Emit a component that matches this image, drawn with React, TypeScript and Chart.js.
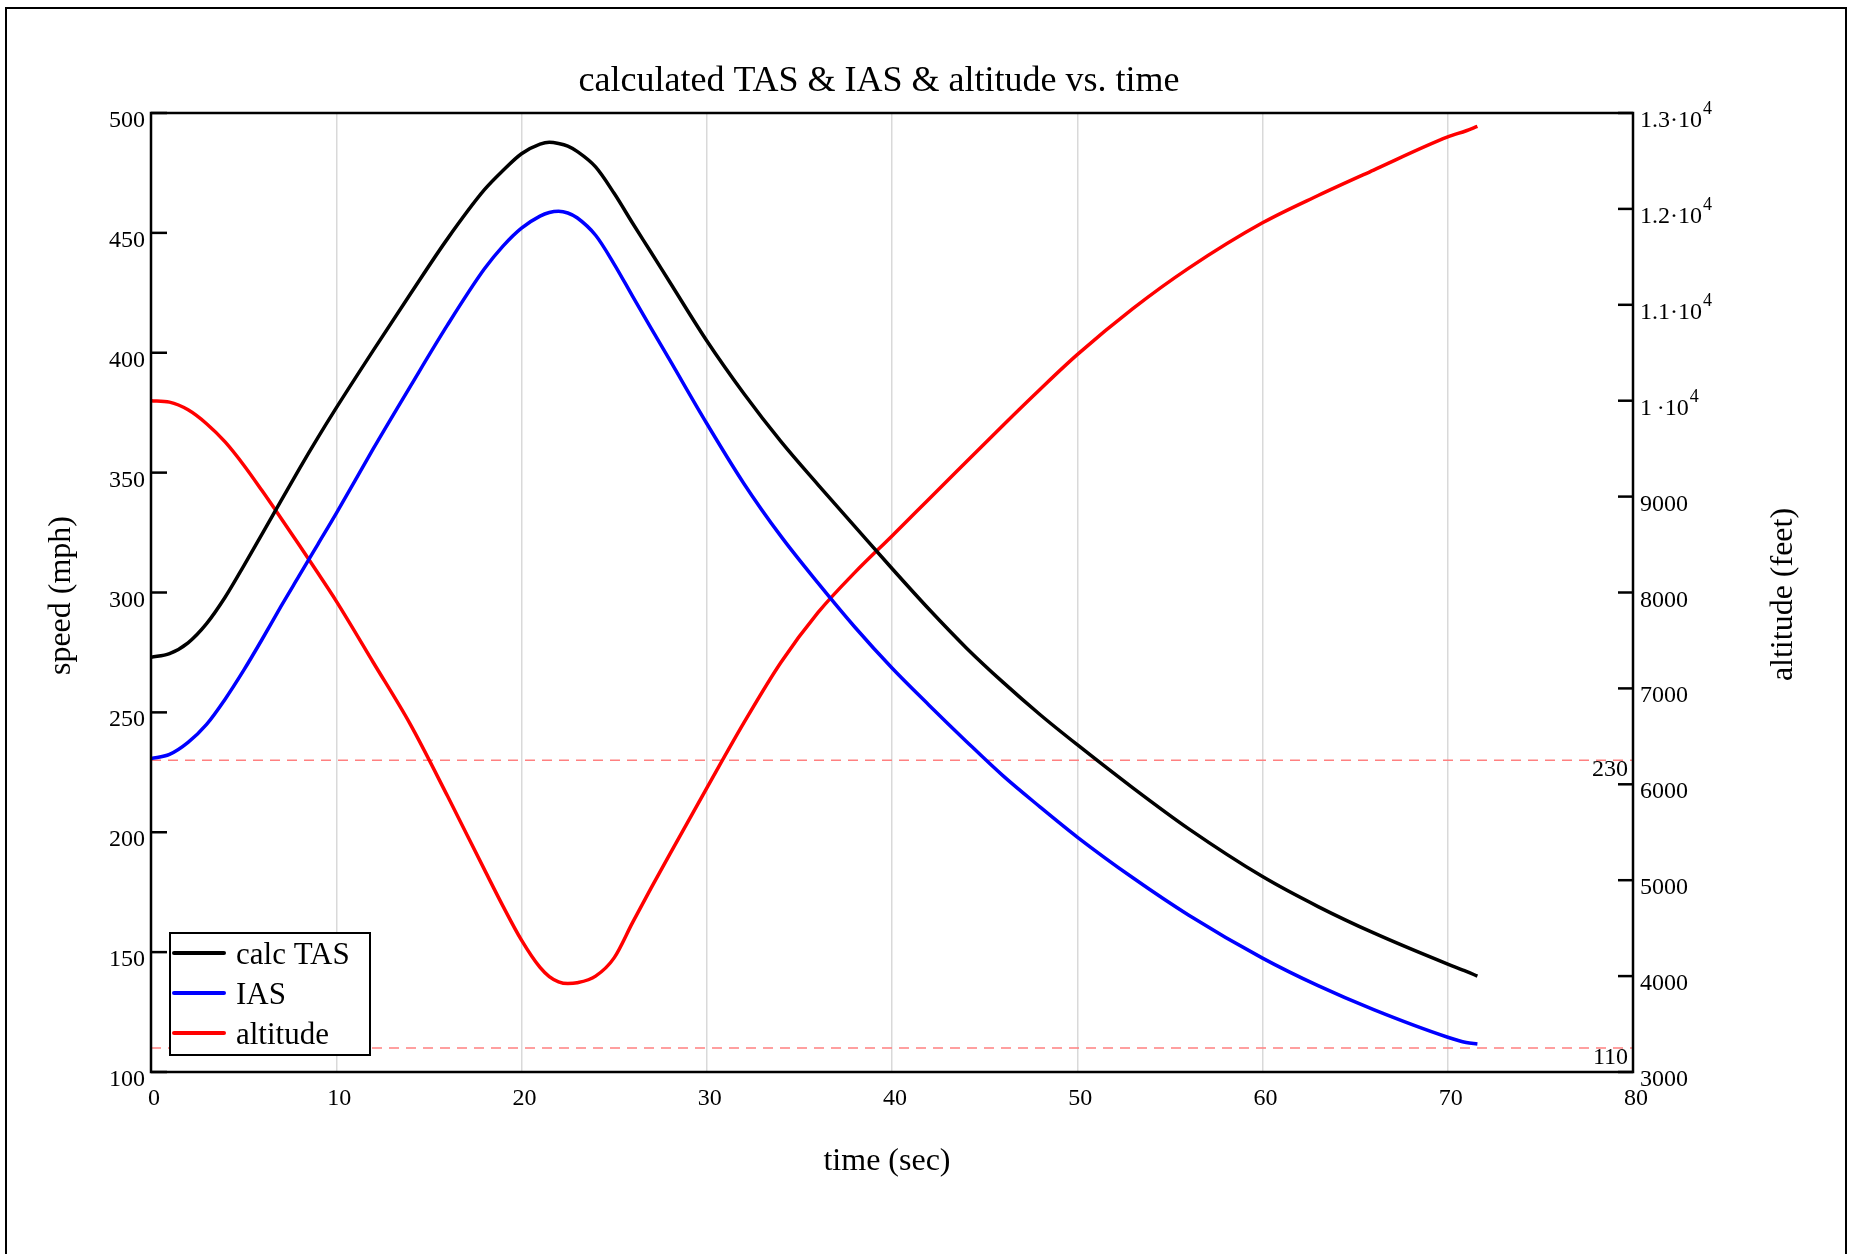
import { useEffect, useRef } from "react";
import { Chart, registerables } from "chart.js";

Chart.register(...registerables);

// time (sec)
const time = [0, 1, 2, 3, 4, 5, 6, 7, 8, 9, 10, 12, 14, 16, 18, 19, 20, 21, 21.5, 22, 22.5, 23, 24, 25, 26, 27, 28, 30, 32, 34, 36, 38, 40, 42, 44, 46, 48, 50, 53, 56, 60, 63, 66, 70, 71, 71.6];
// calc TAS (mph)
const calcTAS = [273, 274.5, 279, 287, 298, 311, 324.5, 338, 351.5, 364.5, 377, 401, 424.5, 447.5, 468, 476, 483, 487, 487.8, 487.3, 486.2, 484, 477.5, 466.5, 454, 441.8, 429.5, 405, 383, 363, 345, 327.5, 310, 293, 277, 262.5, 249, 236.5, 218.5, 201.5, 181.5, 169, 158, 145, 142, 140];
// IAS (mph)
const IAS = [230.7, 232.5, 237.5, 245, 255.5, 267.5, 280.5, 294, 307, 320, 333, 360, 386, 411.5, 435, 444.5, 452, 457, 458.5, 459, 458.3, 456.3, 449, 437, 423.5, 410.2, 397, 370.5, 345.5, 323.5, 304, 285.5, 268.5, 253, 238, 223.5, 210.5, 198, 181, 165.5, 147.5, 136, 126, 114.5, 112.3, 111.7];
// altitude (feet)
const altitude = [10000, 9985, 9905, 9760, 9570, 9330, 9060, 8780, 8495, 8205, 7910, 7270, 6625, 5880, 5110, 4730, 4375, 4090, 3995, 3940, 3922, 3930, 4000, 4190, 4560, 4920, 5270, 5960, 6640, 7270, 7790, 8210, 8590, 8975, 9360, 9745, 10120, 10480, 10960, 11380, 11855, 12140, 12405, 12750, 12815, 12860];
// reference speed markers (mph)
const refSpeeds = [230, 110];

const legendItems = [
  { label: "calc TAS", color: "#000000" },
  { label: "IAS", color: "#0000ff" },
  { label: "altitude", color: "#ff0000" },
];

const SERIF = '"Liberation Serif", "Times New Roman", serif';

export default function App() {
  const ref = useRef<HTMLCanvasElement>(null);

  useEffect(() => {
    document.body.style.margin = "0";
    const canvas = ref.current!;

    const overlay = {
      id: "overlay",
      afterDraw(chart: any) {
        const { ctx, chartArea: a, scales } = chart;
        const sx = scales.x, sy = scales.y, sy1 = scales.y1;
        ctx.save();

        // reference speed labels
        ctx.fillStyle = "#000";
        ctx.font = `24px ${SERIF}`;
        ctx.textAlign = "right";
        ctx.textBaseline = "alphabetic";
        refSpeeds.forEach((v) => {
          const py = sy.getPixelForValue(v);
          ctx.fillText(String(v), a.right - 5, py + 16);
        });

        // plot frame
        ctx.strokeStyle = "#000";
        ctx.lineWidth = 2.5;
        ctx.strokeRect(a.left, a.top, a.right - a.left, a.bottom - a.top);

        // inward ticks
        ctx.lineWidth = 2.5;
        sy.ticks.forEach((t: any) => {
          const py = sy.getPixelForValue(t.value);
          ctx.beginPath();
          ctx.moveTo(a.left, py);
          ctx.lineTo(a.left + 16, py);
          ctx.stroke();
        });
        sy1.ticks.forEach((t: any) => {
          const py = sy1.getPixelForValue(t.value);
          ctx.beginPath();
          ctx.moveTo(a.right - 15, py);
          ctx.lineTo(a.right, py);
          ctx.stroke();
        });

        // tick labels
        ctx.fillStyle = "#000";
        ctx.font = `24px ${SERIF}`;
        ctx.textBaseline = "alphabetic";
        ctx.textAlign = "right";
        sy.ticks.forEach((t: any) => {
          const py = sy.getPixelForValue(t.value);
          ctx.fillText(String(t.value), a.left - 6, py + 14);
        });
        ctx.textAlign = "center";
        sx.ticks.forEach((t: any) => {
          const px = sx.getPixelForValue(t.value);
          ctx.fillText(String(t.value), px + 3, a.bottom + 33);
        });
        ctx.textAlign = "left";
        sy1.ticks.forEach((t: any) => {
          const py = sy1.getPixelForValue(t.value);
          const v = t.value as number;
          const x0 = a.right + 7;
          if (v >= 10000) {
            const m = v / 10000;
            const main = (m === 1 ? "1\u2009" : m.toFixed(1)) + "\u00b710";
            ctx.font = `24px ${SERIF}`;
            ctx.fillText(main, x0, py + 14);
            const w = ctx.measureText(main).width;
            ctx.font = `18px ${SERIF}`;
            ctx.fillText("4", x0 + w + 1, py + 1);
          } else {
            ctx.font = `24px ${SERIF}`;
            ctx.fillText(String(v), x0, py + 14);
          }
        });

        // title & axis titles
        ctx.fillStyle = "#000";
        ctx.textAlign = "center";
        ctx.font = `36px ${SERIF}`;
        ctx.fillText("calculated TAS & IAS & altitude vs. time", 879, 91);
        ctx.font = `32px ${SERIF}`;
        ctx.fillText("time (sec)", 887, 1170);
        ctx.save();
        ctx.translate(70, (a.top + a.bottom) / 2 + 3);
        ctx.rotate(-Math.PI / 2);
        ctx.fillText("speed (mph)", 0, 0);
        ctx.restore();
        ctx.save();
        ctx.translate(1792, (a.top + a.bottom) / 2 + 2);
        ctx.rotate(-Math.PI / 2);
        ctx.fillText("altitude (feet)", 0, 0);
        ctx.restore();

        // legend
        const lx = 170, ly = 933, lw = 200, lh = 122;
        ctx.fillStyle = "#fff";
        ctx.fillRect(lx, ly, lw, lh);
        ctx.strokeStyle = "#000";
        ctx.lineWidth = 2;
        ctx.strokeRect(lx, ly, lw, lh);
        ctx.font = `31px ${SERIF}`;
        ctx.textAlign = "left";
        legendItems.forEach((it, i) => {
          const yy = 953 + i * 40;
          ctx.strokeStyle = it.color;
          ctx.lineWidth = 4;
          ctx.lineCap = "round";
          ctx.beginPath();
          ctx.moveTo(174, yy);
          ctx.lineTo(224, yy);
          ctx.stroke();
          ctx.fillStyle = "#000";
          ctx.fillText(it.label, 236, yy + 11);
        });

        // outer frame
        ctx.lineCap = "butt";
        ctx.strokeStyle = "#000";
        ctx.lineWidth = 2;
        ctx.strokeRect(6, 8, 1840, 1300);

        ctx.restore();
      },
    };

    const common = {
      pointRadius: 0,
      pointHoverRadius: 0,
      borderWidth: 3.5,
      cubicInterpolationMode: "monotone" as const,
      fill: false,
    };

    const chart = new Chart(canvas, {
      type: "line",
      data: {
        datasets: [
          { label: "calc TAS", data: time.map((t, i) => ({ x: t, y: calcTAS[i] })), borderColor: "#000000", yAxisID: "y", ...common },
          { label: "IAS", data: time.map((t, i) => ({ x: t, y: IAS[i] })), borderColor: "#0000ff", yAxisID: "y", ...common },
          { label: "altitude", data: time.map((t, i) => ({ x: t, y: altitude[i] })), borderColor: "#ff0000", yAxisID: "y1", ...common },
          ...refSpeeds.map((v) => ({
            label: "ref " + v,
            data: [{ x: 0, y: v }, { x: 80, y: v }],
            borderColor: "#ff8080",
            borderWidth: 1.5,
            borderDash: [10, 7],
            pointRadius: 0,
            yAxisID: "y",
            order: 5,
          })),
        ],
      },
      options: {
        animation: false,
        responsive: false,
        devicePixelRatio: 1,
        events: [],
        layout: { padding: { top: 113, left: 0, right: 0, bottom: 0 } },
        plugins: { legend: { display: false }, tooltip: { enabled: false }, title: { display: false } },
        scales: {
          x: {
            type: "linear",
            min: 0,
            max: 80,
            ticks: { stepSize: 10, display: false },
            grid: { color: "#d9d9d9", lineWidth: 1.5, drawTicks: false },
            border: { display: false },
            afterFit(s: any) { s.height = 182; },
          },
          y: {
            type: "linear",
            position: "left",
            min: 100,
            max: 500,
            ticks: { stepSize: 50, display: false },
            grid: { display: false, drawTicks: false },
            border: { display: false },
            afterFit(s: any) { s.width = 151; },
          },
          y1: {
            type: "linear",
            position: "right",
            min: 3000,
            max: 13000,
            ticks: { stepSize: 1000, display: false },
            grid: { display: false, drawTicks: false },
            border: { display: false },
            afterFit(s: any) { s.width = 216; },
          },
        },
      } as any,
      plugins: [overlay],
    });
    return () => chart.destroy();
  }, []);

  return <canvas ref={ref} width={1849} height={1254} style={{ display: "block" }} />;
}
